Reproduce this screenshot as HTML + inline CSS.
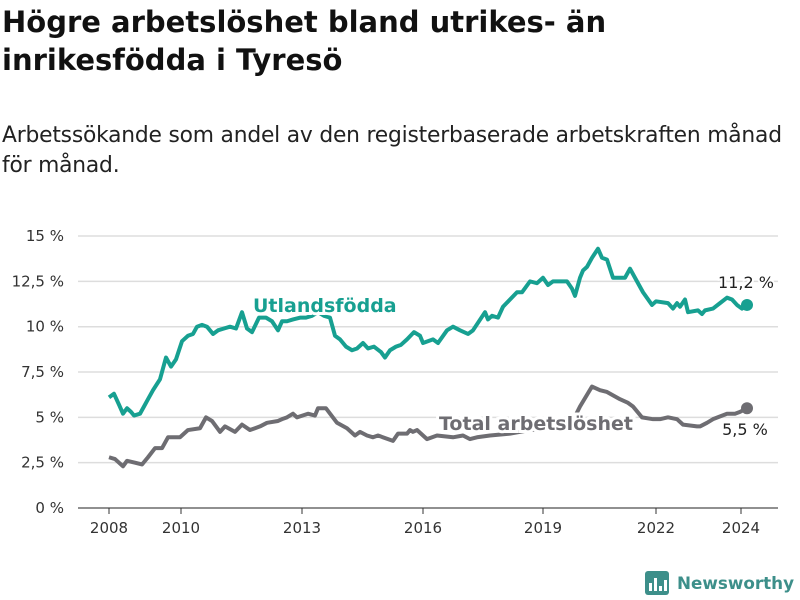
<!DOCTYPE html>
<html><head><meta charset="utf-8"><style>
body{margin:0;width:800px;height:600px;background:#fff;font-family:"Liberation Sans","DejaVu Sans",sans-serif;overflow:hidden;position:relative}
h1{position:absolute;left:2px;top:3px;margin:0;font-family:"DejaVu Sans",sans-serif;font-size:29px;line-height:38px;font-weight:bold;color:#111;width:660px;letter-spacing:0px}
.sub{position:absolute;left:2px;top:121px;margin:0;font-family:"DejaVu Sans",sans-serif;font-size:21.8px;line-height:30px;color:#222;width:790px;letter-spacing:-0.2px}
svg{position:absolute;left:0;top:0}
</style></head><body>
<h1>Högre arbetslöshet bland utrikes- än inrikesfödda i Tyresö</h1>
<p class="sub">Arbetssökande som andel av den registerbaserade arbetskraften månad för månad.</p>
<svg id="chart" width="800" height="600"></svg>
<script>
const yTicks=[0,2.5,5,7.5,10,12.5,15];
const yTickLabels=["0 %","2,5 %","5 %","7,5 %","10 %","12,5 %","15 %"];
const xTicks=[2008,2010,2013,2016,2019,2022,2024];
const foreignX=[109,114,119,123,127,131,134,140,144,148,153,160,166,171,176,182,188,193,197,202,207,213,218,224,230,236,242,247,252,259,266,272,278,282,287,293,300,306,312,318,324,330,335,340,346,352,357,363,368,374,381,385,390,396,401,407,414,420,423,433,438,447,453,460,468,473,485,488,492,498,503,510,517,522,530,537,543,548,553,567,572,575,580,583,587,592,598,602,607,613,620,625,630,637,643,652,656,668,673,677,680,685,688,698,702,705,713,720,727,732,737,742,747];
const foreignV=[6.1,6.3,5.7,5.2,5.5,5.3,5.1,5.2,5.6,6.0,6.5,7.1,8.3,7.8,8.2,9.2,9.5,9.6,10.0,10.1,10.0,9.6,9.8,9.9,10.0,9.9,10.8,9.9,9.7,10.5,10.5,10.3,9.8,10.3,10.3,10.4,10.5,10.5,10.6,10.8,10.6,10.5,9.5,9.3,8.9,8.7,8.8,9.1,8.8,8.9,8.6,8.3,8.7,8.9,9.0,9.3,9.7,9.5,9.1,9.3,9.1,9.8,10.0,9.8,9.6,9.8,10.8,10.4,10.6,10.5,11.1,11.5,11.9,11.9,12.5,12.4,12.7,12.3,12.5,12.5,12.1,11.7,12.7,13.1,13.3,13.8,14.3,13.8,13.7,12.7,12.7,12.7,13.2,12.5,11.9,11.2,11.4,11.3,11.0,11.3,11.1,11.5,10.8,10.9,10.7,10.9,11.0,11.3,11.6,11.5,11.2,11.0,11.2];
const totalX=[109,115,123,127,135,142,148,155,162,168,180,188,200,206,212,220,225,235,242,250,260,267,278,282,287,293,297,308,315,318,326,337,347,355,360,367,373,378,393,398,407,410,413,417,427,437,453,463,470,477,490,510,530,550,570,580,592,600,607,620,628,633,642,653,660,668,677,683,697,700,707,713,727,735,740,747];
const totalV=[2.8,2.7,2.3,2.6,2.5,2.4,2.8,3.3,3.3,3.9,3.9,4.3,4.4,5.0,4.8,4.2,4.5,4.2,4.6,4.3,4.5,4.7,4.8,4.9,5.0,5.2,5.0,5.2,5.1,5.5,5.5,4.7,4.4,4.0,4.2,4.0,3.9,4.0,3.7,4.1,4.1,4.3,4.2,4.3,3.8,4.0,3.9,4.0,3.8,3.9,4.0,4.1,4.3,4.4,4.5,5.6,6.7,6.5,6.4,6.0,5.8,5.6,5.0,4.9,4.9,5.0,4.9,4.6,4.5,4.5,4.7,4.9,5.2,5.2,5.3,5.5];
const NS='http://www.w3.org/2000/svg';
const svg=document.getElementById('chart');
const y=v=>508-v*18.13;
function mk(t,a){const e=document.createElementNS(NS,t);for(const k in a)e.setAttribute(k,a[k]);svg.appendChild(e);return e;}
yTicks.forEach((t,i)=>{
 const l=mk('line',{x1:78,x2:778,y1:y(t),y2:y(t),stroke:'#ddd','stroke-width':1.5});
 
 
 const tx=mk('text',{x:64,y:y(t)+5,'text-anchor':'end','font-size':15,fill:'#333','font-family':'DejaVu Sans,sans-serif'});
 tx.textContent=yTickLabels[i];
 
 
});
const ax=mk('line',{x1:78,x2:778,y1:508,y2:508,stroke:'#333','stroke-width':1});


const xLabelPos={2008:109,2010:181,2013:302,2016:423,2019:543,2022:656,2024:741};
xTicks.forEach(t=>{
 const px=xLabelPos[t];
 const tk=mk('line',{x1:px,x2:px,y1:508,y2:514,stroke:'#333'});
 
 
 const tx=mk('text',{x:px,y:533,'text-anchor':'middle','font-size':15,fill:'#333','font-family':'DejaVu Sans,sans-serif'});
 tx.textContent=t;
 
 
});
function series(xs,vs,col,name){
 const d=xs.map((px,i)=>(i?'L':'M')+px+','+y(vs[i])).join('');
 const p=mk('path',{d:d,fill:'none',stroke:col,'stroke-width':4,'stroke-linejoin':'round'});
 
 
 const c=mk('circle',{cx:xs[xs.length-1],cy:y(vs[vs.length-1]),r:6,fill:col});
 
 
}
series(totalX,totalV,'#6e6d72','total');
series(foreignX,foreignV,'#17a091','foreign');
function lbl(x,yy,txt,col,size,bold,name,anchor){
 const t=mk('text',{x:x,y:yy,'font-size':size,'font-weight':bold?'bold':'normal',fill:col,stroke:'#fff','stroke-width':bold?6:4,'paint-order':'stroke','text-anchor':anchor||'start','font-family':'DejaVu Sans,sans-serif'});
 t.textContent=txt;
 
 
}
lbl(253,312,'Utlandsfödda','#17a091',19,true,'foreign-series-label');
lbl(439,430,'Total arbetslöshet','#6e6d72',19,true,'total-series-label');
lbl(746,288,'11,2 %','#222',16,false,'foreign-end-value','middle');
lbl(745,435,'5,5 %','#222',16,false,'total-end-value','middle');
</script>
<svg width="800" height="600" style="position:absolute;left:0;top:0;pointer-events:none">
 <rect x="645" y="571" width="24" height="24" rx="3" fill="#3d8f8a"/>
 <rect x="649" y="583" width="3" height="8" fill="#fff"/><rect x="654" y="578" width="3" height="13" fill="#fff"/><rect x="659" y="586" width="3" height="5" fill="#fff"/><rect x="664" y="580" width="3" height="11" fill="#fff"/>
 <text x="677" y="589" font-size="17" font-weight="bold" fill="#3d8f8a" font-family="DejaVu Sans,sans-serif" textLength="117" lengthAdjust="spacingAndGlyphs">Newsworthy</text>
</svg>
</body></html>
